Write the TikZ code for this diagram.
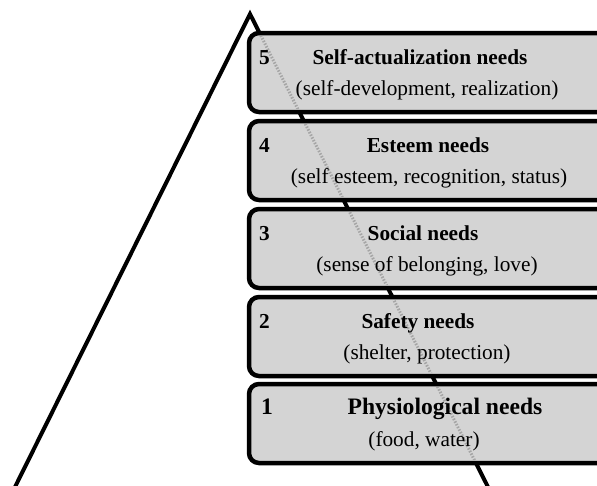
\documentclass[tikz,border=0pt]{standalone}
\usepackage{fontspec}
\setmainfont{Liberation Serif}
\definecolor{boxfill}{RGB}{212,212,212}
\definecolor{ghost}{RGB}{165,165,165}
\begin{document}
\begin{tikzpicture}[x=1pt,y=-1pt,
  side/.style={line width=4pt,black,miter limit=20},
  needbox/.style={line width=4.5pt,draw=black,fill=boxfill,rounded corners=10pt},
  ghostline/.style={line width=3pt,ghost,dash pattern=on 1.5pt off 1.5pt},
  txt/.style={font=\fontsize{21.3}{24}\selectfont,inner sep=0pt,anchor=base},
  ttl/.style={txt,font=\fontsize{21.3}{24}\selectfont\bfseries},
  bigttl/.style={txt,font=\fontsize{23.6}{26}\selectfont\bfseries},
  num/.style={ttl,anchor=base west}]
\useasboundingbox (0,0) rectangle (597,485);
\clip (0,0) rectangle (597,485);
\coordinate (apex) at (250,14);
\coordinate (bl) at (15,487);
\coordinate (br) at (488,487);
\draw[side] (bl) -- (apex) -- (br);
% boxes
\draw[needbox] (249,33) rectangle (615,112);
\draw[needbox] (249,121) rectangle (615,200);
\draw[needbox] (249,209) rectangle (615,288);
\draw[needbox] (249,297) rectangle (615,376);
\draw[needbox] (249,384) rectangle (615,463);
% line seen through boxes
\begin{scope}
\clip (252,36) rectangle (612,109)
      (252,124) rectangle (612,197)
      (252,212) rectangle (612,285)
      (252,300) rectangle (612,373)
      (252,387) rectangle (612,460);
\draw[ghostline] (apex) -- (br);
\end{scope}
% texts
\node[num] (n5) at (259,64) {5};
\node[ttl] (t5) at (420,64) {Self-actualization needs};
\node[txt] (s5) at (427,95) {(self-development, realization)};
\node[num] (n4) at (259,152) {4};
\node[ttl] (t4) at (428,152) {Esteem needs};
\node[txt] (s4) at (429,183) {(self esteem, recognition, status)};
\node[num] (n3) at (259,240) {3};
\node[ttl] (t3) at (423,240) {Social needs};
\node[txt] (s3) at (427,271) {(sense of belonging, love)};
\node[num] (n2) at (259,328) {2};
\node[ttl] (t2) at (418,328) {Safety needs};
\node[txt] (s2) at (427,359) {(shelter, protection)};
\node[bigttl,anchor=base west] (n1) at (261,414) {1};
\node[bigttl] (t1) at (445,414) {Physiological needs};
\node[txt] (s1) at (424,446) {(food, water)};
\end{tikzpicture}
\end{document}
